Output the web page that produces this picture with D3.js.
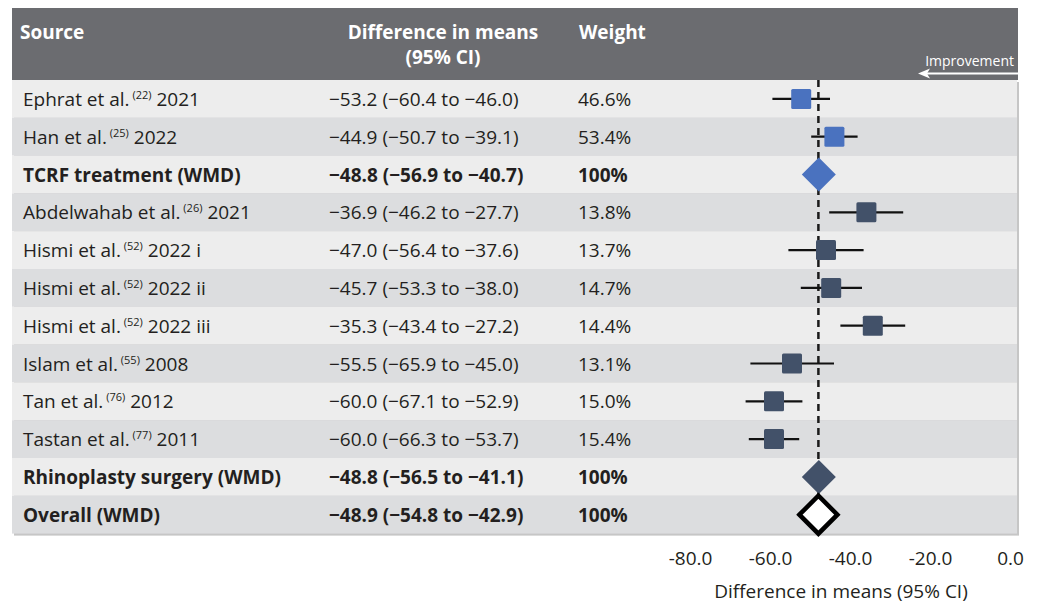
<!DOCTYPE html>
<html><head><meta charset="utf-8">
<script src="https://cdn.jsdelivr.net/npm/d3@7"></script>
<style>body{margin:0;background:#fff;}svg{display:block;font-family:"Open Sans",sans-serif;}</style>
</head><body><svg id="c" width="1039" height="606"></svg>
<script>
const names = ["Ephrat et al.", "Han et al.", "TCRF treatment (WMD)", "Abdelwahab et al.", "Hismi et al.", "Hismi et al.", "Hismi et al.", "Islam et al.", "Tan et al.", "Tastan et al.", "Rhinoplasty surgery (WMD)", "Overall (WMD)"];
const refs = ["22", "25", "", "26", "52", "52", "52", "55", "76", "77", "", ""];
const suffixes = ["2021", "2022", "", "2021", "2022 i", "2022 ii", "2022 iii", "2008", "2012", "2011", "", ""];
const means = [-53.2, -44.9, -48.8, -36.9, -47.0, -45.7, -35.3, -55.5, -60.0, -60.0, -48.8, -48.9];
const lows = [-60.4, -50.7, -56.9, -46.2, -56.4, -53.3, -43.4, -65.9, -67.1, -66.3, -56.5, -54.8];
const highs = [-46.0, -39.1, -40.7, -27.7, -37.6, -38.0, -27.2, -45.0, -52.9, -53.7, -41.1, -42.9];
const weights = ["46.6%", "53.4%", "100%", "13.8%", "13.7%", "14.7%", "14.4%", "13.1%", "15.0%", "15.4%", "100%", "100%"];
const kinds = ["study", "study", "sub", "study", "study", "study", "study", "study", "study", "study", "sub", "overall"];
const groups = ["tcrf", "tcrf", "tcrf", "rhino", "rhino", "rhino", "rhino", "rhino", "rhino", "rhino", "rhino", "all"];
const xTicks = [-80, -60, -40, -20, 0];
const overallMean = -48.9;

const colors = {tcrf: "#4a72bf", rhino: "#425169", all: "#ffffff"};
const svg = d3.select("#c");
const L = 12, R = 1017, T = 80, rowH = 37.8;
const rows = d3.range(names.length);
const B = T + rowH * rows.length;
const y = d3.scaleBand().domain(rows).range([T, B]);
const x = d3.scaleLinear().domain([-80, 0]).range([694, 1014]);
const fmt = v => (v < 0 ? "\u2212" : "") + Math.abs(v).toFixed(1);

// header
svg.append("rect").attr("x", L).attr("y", 8).attr("width", R + 1 - L).attr("height", T - 8).attr("fill", "#6b6c70");
const hdr = svg.append("g").attr("fill", "#fff").attr("font-weight", "bold").attr("font-size", 19);
hdr.append("text").attr("x", 20).attr("y", 39).text("Source");
hdr.append("text").attr("x", 443).attr("y", 39).attr("text-anchor", "middle").text("Difference in means");
hdr.append("text").attr("x", 443).attr("y", 64).attr("text-anchor", "middle").text("(95% CI)");
hdr.append("text").attr("x", 579).attr("y", 39).text("Weight");
svg.append("text").attr("x", 1014).attr("y", 66).attr("text-anchor", "end").attr("fill", "#fff").attr("font-size", 14).text("Improvement");
svg.append("line").attr("x1", 926).attr("x2", R + 1).attr("y1", 73.5).attr("y2", 73.5).attr("stroke", "#fff").attr("stroke-width", 2);
svg.append("path").attr("d", `M918,73.5 L930,68.5 L927,73.5 L930,78.5 Z`).attr("fill", "#fff");

// rows
svg.append("rect").attr("x", L + 2).attr("y", T + 2).attr("width", R - L).attr("height", B - T).attr("fill", "#c6c6c6");
svg.selectAll("rect.row").data(rows).join("rect").attr("class", "row")
  .attr("x", L).attr("y", i => y(i)).attr("width", R - L).attr("height", y.bandwidth())
  .attr("fill", i => i % 2 === 0 ? "#ededed" : "#dcdddf");

const txt = svg.append("g").attr("fill", "#231f20").attr("font-size", 19);
rows.forEach(i => {
  const cy = y(i) + y.bandwidth() / 2 + 7;
  const bold = kinds[i] !== "study";
  const t = txt.append("text").attr("x", 23).attr("y", cy).attr("font-weight", bold ? "bold" : "normal");
  t.append("tspan").text(names[i]);
  if (refs[i]) {
    t.append("tspan").attr("font-size", 11).attr("dy", -7).text(" (" + refs[i] + ")");
    t.append("tspan").attr("dy", 7).text(" " + suffixes[i]);
  }
  txt.append("text").attr("x", 329).attr("y", cy).attr("font-weight", bold ? "bold" : "normal")
    .text(`${fmt(means[i])} (${fmt(lows[i])} to ${fmt(highs[i])})`);
  txt.append("text").attr("x", 578).attr("y", cy).attr("font-weight", bold ? "bold" : "normal").text(weights[i]);
});

// reference dashed line
svg.append("line").attr("x1", x(overallMean)).attr("x2", x(overallMean)).attr("y1", T).attr("y2", B)
  .attr("stroke", "#1a1a1a").attr("stroke-width", 2.5).attr("stroke-dasharray", "7,5");

// CIs & squares
const studies = rows.filter(i => kinds[i] === "study");
svg.selectAll("line.ci").data(studies).join("line").attr("class", "ci")
  .attr("x1", i => x(lows[i])).attr("x2", i => x(highs[i]))
  .attr("y1", i => y(i) + y.bandwidth() / 2).attr("y2", i => y(i) + y.bandwidth() / 2)
  .attr("stroke", "#111").attr("stroke-width", 2.2);
const sq = 20;
svg.selectAll("rect.sq").data(studies).join("rect").attr("class", "sq")
  .attr("x", i => x(means[i]) - sq / 2).attr("y", i => y(i) + y.bandwidth() / 2 - sq / 2)
  .attr("width", sq).attr("height", sq).attr("rx", 1.5)
  .attr("fill", i => colors[groups[i]]);

// diamonds
const dia = rows.filter(i => kinds[i] !== "study");
svg.selectAll("path.dia").data(dia).join("path").attr("class", "dia")
  .attr("d", i => {
    const cx = x(means[i]), cy = y(i) + y.bandwidth() / 2, h = kinds[i] === "overall" ? 19 : 17;
    return `M${cx - h},${cy} L${cx},${cy - h} L${cx + h},${cy} L${cx},${cy + h} Z`;
  })
  .attr("fill", i => colors[groups[i]])
  .attr("stroke", i => kinds[i] === "overall" ? "#000" : "none")
  .attr("stroke-width", 4.5).attr("stroke-linejoin", "miter");

// axis
const ax = svg.append("g").attr("transform", `translate(0,${B})`)
  .call(d3.axisBottom(x).tickValues(xTicks).tickFormat(d => d.toFixed(1)).tickSize(0).tickPadding(18));
ax.select(".domain").remove();
ax.selectAll("text").attr("font-size", 19).attr("fill", "#231f20").attr("font-family", "Open Sans, sans-serif").attr("dx", -4);
svg.append("text").attr("x", 841).attr("y", 598).attr("text-anchor", "middle").attr("font-size", 19).attr("fill", "#231f20").text("Difference in means (95% CI)");
</script></body></html>
